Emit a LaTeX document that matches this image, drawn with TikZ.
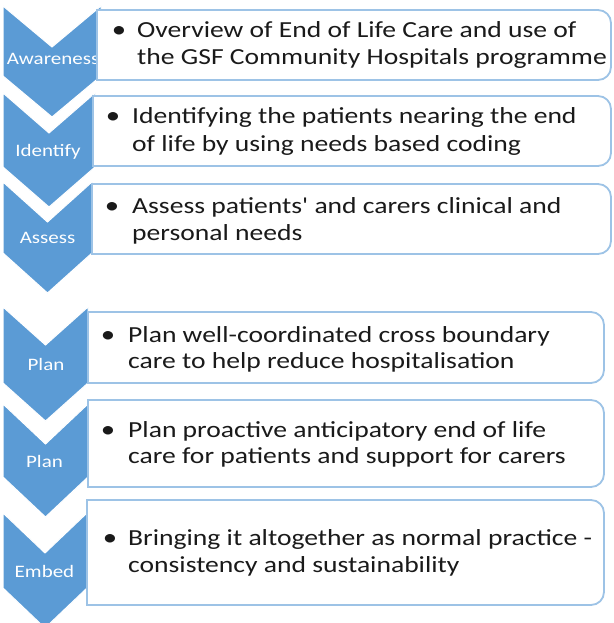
\documentclass[tikz,border=0pt]{standalone}
\usepackage{fontspec}
\setmainfont{Carlito}
\newfontfamily\boxfont[FakeStretch=1.2]{Carlito}
\newfontfamily\chevfont[FakeStretch=1.2]{Carlito}
\definecolor{chevblue}{HTML}{5B9BD5}
\definecolor{boxline}{HTML}{9DC3E6}
\definecolor{txt}{HTML}{1A1A1A}
\newcommand\drawchev[5]{\filldraw[chev] (#1,#3) -- ({(#1+#2)/2},{#3+#5}) -- (#2,#3) -- (#2,#4) -- ({(#1+#2)/2},{#4+#5}) -- (#1,#4) -- cycle;}
\newcommand\drawstepbox[4]{\draw[stepbox] (#1,#3) -- ({#2-13},#3) arc(-90:0:13) -- (#2,{#4-13}) arc(0:90:13) -- (#1,#4) -- cycle;}
\begin{document}
\begin{tikzpicture}[x=1pt,y=-1pt,
  chev/.style={fill=chevblue, draw=white, line width=1pt},
  stepbox/.style={fill=white, draw=boxline, line width=1.8pt},
  boxtext/.style={anchor=base west, inner sep=0pt, text=txt, font=\boxfont\fontsize{23}{27}\selectfont},
  bul/.style={anchor=base, inner sep=0pt, text=txt, font=\boxfont\fontsize{24}{27}\selectfont},
  chevlabel/.style={anchor=base, inner sep=0pt, text=white, font=\chevfont\fontsize{17.5}{20}\selectfont}]
\useasboundingbox (0,0) rectangle (613,623);
\fill[white] (0,0) rectangle (613,623);
% chevrons
\drawchev{3}{101}{6}{76}{41}
\drawchev{3}{95}{93}{167}{40}
\drawchev{3}{92}{182}{253}{40}
\drawchev{3}{88}{307}{383}{38}
\drawchev{3}{88}{404}{477}{40}
\drawchev{3}{87}{513}{588}{40}
% chevron labels
\node[chevlabel] (l1) at (53,65) {Awareness};
\node[chevlabel] (l2) at (48,156) {Identify};
\node[chevlabel] (l3) at (47.5,243) {Assess};
\node[chevlabel] (l4) at (46,370) {Plan};
\node[chevlabel] (l5) at (44.5,467) {Plan};
\node[chevlabel] (l6) at (44.5,577) {Embed};
% boxes
\drawstepbox{97}{611}{10}{80}
\drawstepbox{93}{611}{96}{166}
\drawstepbox{92}{611}{184}{254}
\drawstepbox{88}{604}{312}{383}
\drawstepbox{88}{604}{400}{487}
\drawstepbox{87}{604}{500}{605}
% box texts
\node[bul] (d1) at (119,38) {•};
\node[boxtext] (t1a) at (137,38) {Overview of End of Life Care and use of};
\node[boxtext] (t1b) at (137,65) {the GSF Community Hospitals programme};
\node[bul] (d2) at (113,124) {•};
\node[boxtext] (t2a) at (132,124) {Identifying the patients nearing the end};
\node[boxtext] (t2b) at (132,151) {of life by using needs based coding};
\node[bul] (d3) at (112,213) {•};
\node[boxtext] (t3a) at (132,213) {Assess patients' and carers clinical and};
\node[boxtext] (t3b) at (132,240) {personal needs};
\node[bul] (d4) at (108,342) {•};
\node[boxtext] (t4a) at (128,342) {Plan well-coordinated cross boundary};
\node[boxtext] (t4b) at (128,368) {care to help reduce hospitalisation};
\node[bul] (d5) at (108,437) {•};
\node[boxtext] (t5a) at (128,437) {Plan proactive anticipatory end of life};
\node[boxtext] (t5b) at (128,463) {care for patients and support for carers};
\node[bul] (d6) at (110,545) {•};
\node[boxtext] (t6a) at (128,545) {Bringing it altogether as normal practice -};
\node[boxtext] (t6b) at (128,572) {consistency and sustainability};
\end{tikzpicture}
\end{document}
